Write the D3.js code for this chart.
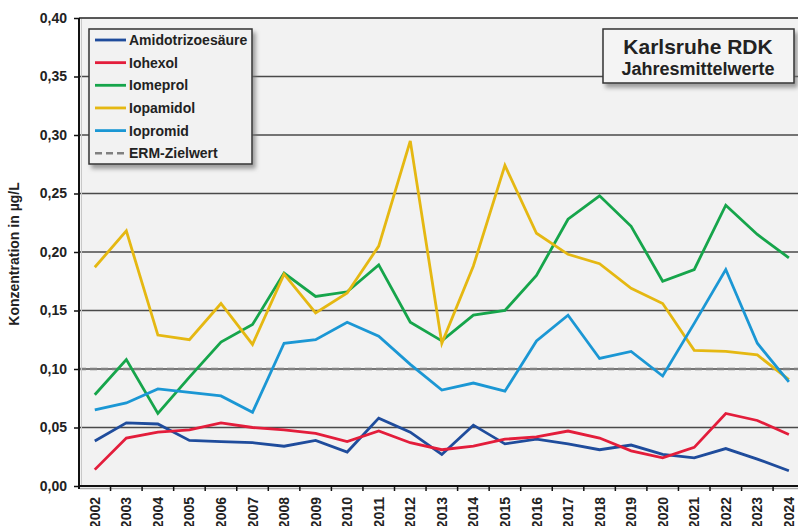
<!DOCTYPE html>
<html><head><meta charset="utf-8">
<script src="https://cdn.jsdelivr.net/npm/d3@7/dist/d3.min.js"></script>
<style>
html,body{margin:0;padding:0;background:#fff;}
svg{display:block;font-family:"Liberation Sans",Arial,sans-serif;font-weight:bold;}
</style></head>
<body>
<svg id="chart" width="798" height="526"></svg>
<script>
const years = ["2002","2003","2004","2005","2006","2007","2008","2009","2010","2011","2012","2013","2014","2015","2016","2017","2018","2019","2020","2021","2022","2023","2024"];
const amidotrizoesaeure = [0.0385,0.054,0.053,0.039,0.038,0.037,0.034,0.039,0.029,0.058,0.046,0.027,0.052,0.036,0.040,0.036,0.031,0.035,0.027,0.024,0.032,0.023,0.013];
const iohexol = [0.014,0.041,0.046,0.048,0.054,0.050,0.048,0.045,0.038,0.047,0.037,0.031,0.034,0.040,0.042,0.047,0.041,0.030,0.024,0.033,0.062,0.056,0.044];
const iomeprol = [0.078,0.108,0.062,0.093,0.123,0.138,0.182,0.162,0.166,0.189,0.140,0.124,0.146,0.150,0.180,0.228,0.248,0.222,0.175,0.185,0.240,0.215,0.195];
const iopamidol = [0.187,0.218,0.129,0.125,0.156,0.121,0.181,0.148,0.165,0.205,0.295,0.122,0.188,0.274,0.216,0.198,0.190,0.169,0.156,0.116,0.115,0.112,0.091];
const iopromid = [0.065,0.071,0.083,0.080,0.077,0.063,0.122,0.125,0.140,0.128,0.104,0.082,0.088,0.081,0.124,0.146,0.109,0.115,0.094,0.139,0.185,0.122,0.089];
const ermZielwert = 0.10;
const yTicks = [0,0.05,0.10,0.15,0.20,0.25,0.30,0.35,0.40];
const seriesNames = ["Amidotrizoesäure","Iohexol","Iomeprol","Iopamidol","Iopromid"];
const seriesColors = ["#1f4c9c","#e31d3b","#16a54b","#e5b812","#1b97d4"];
const seriesValues = [amidotrizoesaeure, iohexol, iomeprol, iopamidol, iopromid];

const svg = d3.select("#chart");
const pLeft = 79, pTop = 18, pBottom = 486, pRight = 79 + 23*31.55;

const defs = svg.append("defs");
const f = defs.append("filter").attr("id","shadow").attr("x","-10%").attr("y","-10%").attr("width","130%").attr("height","140%");
f.append("feDropShadow").attr("dx",3).attr("dy",4).attr("stdDeviation",2).attr("flood-color","#777").attr("flood-opacity",0.7);

const x = d3.scaleBand().domain(years).range([pLeft, pRight]).padding(0);
const y = d3.scaleLinear().domain([0,0.40]).range([pBottom, pTop]);
const cx = d => x(d) + x.bandwidth()/2;

// plot background
svg.append("rect").attr("x",pLeft).attr("y",pTop).attr("width",pRight-pLeft).attr("height",pBottom-pTop).attr("fill","#f2f2f2");

// gridlines
svg.append("g").selectAll("line").data(yTicks.filter(v=>v>0)).join("line")
  .attr("x1",pLeft).attr("x2",pRight).attr("y1",d=>y(d)).attr("y2",d=>y(d))
  .attr("stroke",d=>d===0.40?"#222":"#4a4a4a").attr("stroke-width",1.4);

// ERM dashed line
svg.append("line").attr("x1",pLeft).attr("x2",pRight).attr("y1",y(ermZielwert)).attr("y2",y(ermZielwert))
  .attr("stroke","#808080").attr("stroke-width",2.6).attr("stroke-dasharray","7,4");

// series lines
const line = d3.line().x((d,i)=>cx(years[i])).y(d=>y(d));
seriesValues.forEach((vals,k)=>{
  svg.append("path").datum(vals).attr("d",line).attr("fill","none")
    .attr("stroke",seriesColors[k]).attr("stroke-width",2.8).attr("stroke-linejoin","miter");
});

// axes shadows
svg.append("line").attr("x1",pLeft+1).attr("x2",pRight).attr("y1",pBottom+2.5).attr("y2",pBottom+2.5).attr("stroke","#aaa").attr("stroke-width",1.5);
svg.append("line").attr("x1",pLeft+2.5).attr("x2",pLeft+2.5).attr("y1",pTop+1).attr("y2",pBottom).attr("stroke","#c8c8c8").attr("stroke-width",1);

// y axis
const yAxis = d3.axisLeft(y).tickValues(yTicks).tickSize(5).tickPadding(7)
  .tickFormat(d => d3.format(".2f")(d).replace(".",","));
const gy = svg.append("g").attr("transform",`translate(${pLeft},0)`).call(yAxis);
gy.select(".domain").attr("stroke","#111").attr("stroke-width",2).attr("d",`M0,${pTop}V${pBottom+3}`);
gy.selectAll(".tick line").attr("stroke","#111").attr("stroke-width",1.5);
gy.selectAll("text").attr("font-size",14).attr("font-weight","bold").attr("fill","#222")
  .attr("font-family","Liberation Sans, Arial, sans-serif");

// x axis
const xAxis = d3.axisBottom(x).tickSize(5).tickSizeOuter(0).tickPadding(0);
const gx = svg.append("g").attr("transform",`translate(0,${pBottom})`).call(xAxis);
gx.select(".domain").attr("stroke","#111").attr("stroke-width",2).attr("d",`M${pLeft},0H${pRight}`);
gx.selectAll(".tick line").attr("x1",x.bandwidth()/2).attr("x2",x.bandwidth()/2).attr("stroke","#111").attr("stroke-width",1.5);
gx.selectAll("text").attr("font-size",14).attr("font-weight","bold").attr("fill","#222")
  .attr("font-family","Liberation Sans, Arial, sans-serif")
  .attr("y",null).attr("dy","0.36em").attr("text-anchor","end")
  .attr("transform","translate(0,11) rotate(-90)");

// y axis title
svg.append("text").attr("transform","translate(19,254) rotate(-90)").attr("text-anchor","middle")
  .attr("font-size",14).attr("fill","#222").text("Konzentration in µg/L");

// legend
const lg = svg.append("g");
lg.append("rect").attr("x",89).attr("y",29).attr("width",163).attr("height",135)
  .attr("fill","#f2f2f2").attr("stroke","#333").attr("stroke-width",1.5).attr("filter","url(#shadow)");
const legendItems = seriesNames.map((n,i)=>({name:n,color:seriesColors[i],dash:null}))
  .concat([{name:"ERM-Zielwert",color:"#808080",dash:"7,4"}]);
legendItems.forEach((it,i)=>{
  const yy = 40 + i*22.65;
  lg.append("line").attr("x1",95).attr("x2",126).attr("y1",yy).attr("y2",yy)
    .attr("stroke",it.color).attr("stroke-width",it.dash?2.6:2.8).attr("stroke-dasharray",it.dash);
  lg.append("text").attr("x",129).attr("y",yy).attr("dy","0.36em").attr("font-size",14).attr("fill","#222").text(it.name);
});

// title box
const tb = svg.append("g");
tb.append("rect").attr("x",603).attr("y",29).attr("width",191).attr("height",54)
  .attr("fill","#f4f4f4").attr("stroke","#333").attr("stroke-width",1.5).attr("filter","url(#shadow)");
tb.append("text").attr("x",698).attr("y",54).attr("text-anchor","middle").attr("font-size",21).attr("fill","#222").text("Karlsruhe RDK");
tb.append("text").attr("x",698).attr("y",75).attr("text-anchor","middle").attr("font-size",18).attr("fill","#222").text("Jahresmittelwerte");
</script>
</body></html>
